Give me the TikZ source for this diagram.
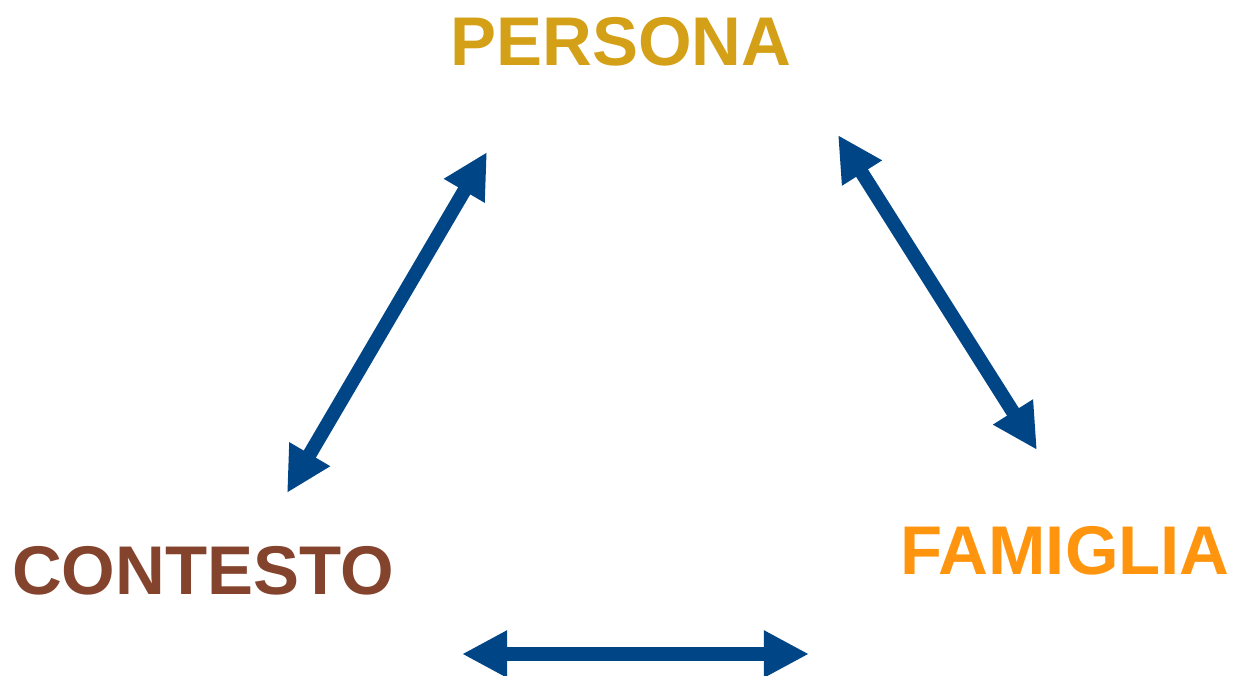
\documentclass[tikz,border=0pt]{standalone}
\usepackage{fontspec}
\setmainfont{Liberation Sans}
\usepackage{tikz}
\usetikzlibrary{
    positioning,
    arrows.meta,
    calc
}
\definecolor{LinkBlue}{RGB}{0,70,134}
\definecolor{PersonaGold}{RGB}{212,160,23}
\definecolor{FamigliaOrange}{RGB}{255,149,14}
\definecolor{ContestoBrown}{RGB}{131,67,44}
\tikzset{
    corner/.style={font=\bfseries\fontsize{19.6}{24}\selectfont, inner sep=0pt, anchor=base},
    linkarrow/.style={{Triangle[length=4.5mm,width=4.4mm]}-{Triangle[length=4.5mm,width=4.4mm]}, line width=1.4mm, draw=LinkBlue}
}
\begin{document}
\begin{tikzpicture}[x=0.01cm, y=-0.01cm]
    \useasboundingbox (0,0) rectangle (1235,676);
    \node[corner, text=PersonaGold] (persona) at (621,66) {PERSONA};
    \node[corner, text=ContestoBrown] (contesto) at (203,595) {CONTESTO};
    \node[corner, text=FamigliaOrange] (famiglia) at (1065,575) {FAMIGLIA};
    % ends of the arrows
    \coordinate (pL) at (487,152);
    \coordinate (pR) at (838,135);
    \coordinate (cT) at (287,493);
    \coordinate (cR) at (462,654);
    \coordinate (fT) at (1037,450);
    \coordinate (fL) at (809,654);
    \draw[linkarrow] (cT) -- (pL);
    \draw[linkarrow] (pR) -- (fT);
    \draw[linkarrow] (cR) -- (fL);
\end{tikzpicture}
\end{document}
